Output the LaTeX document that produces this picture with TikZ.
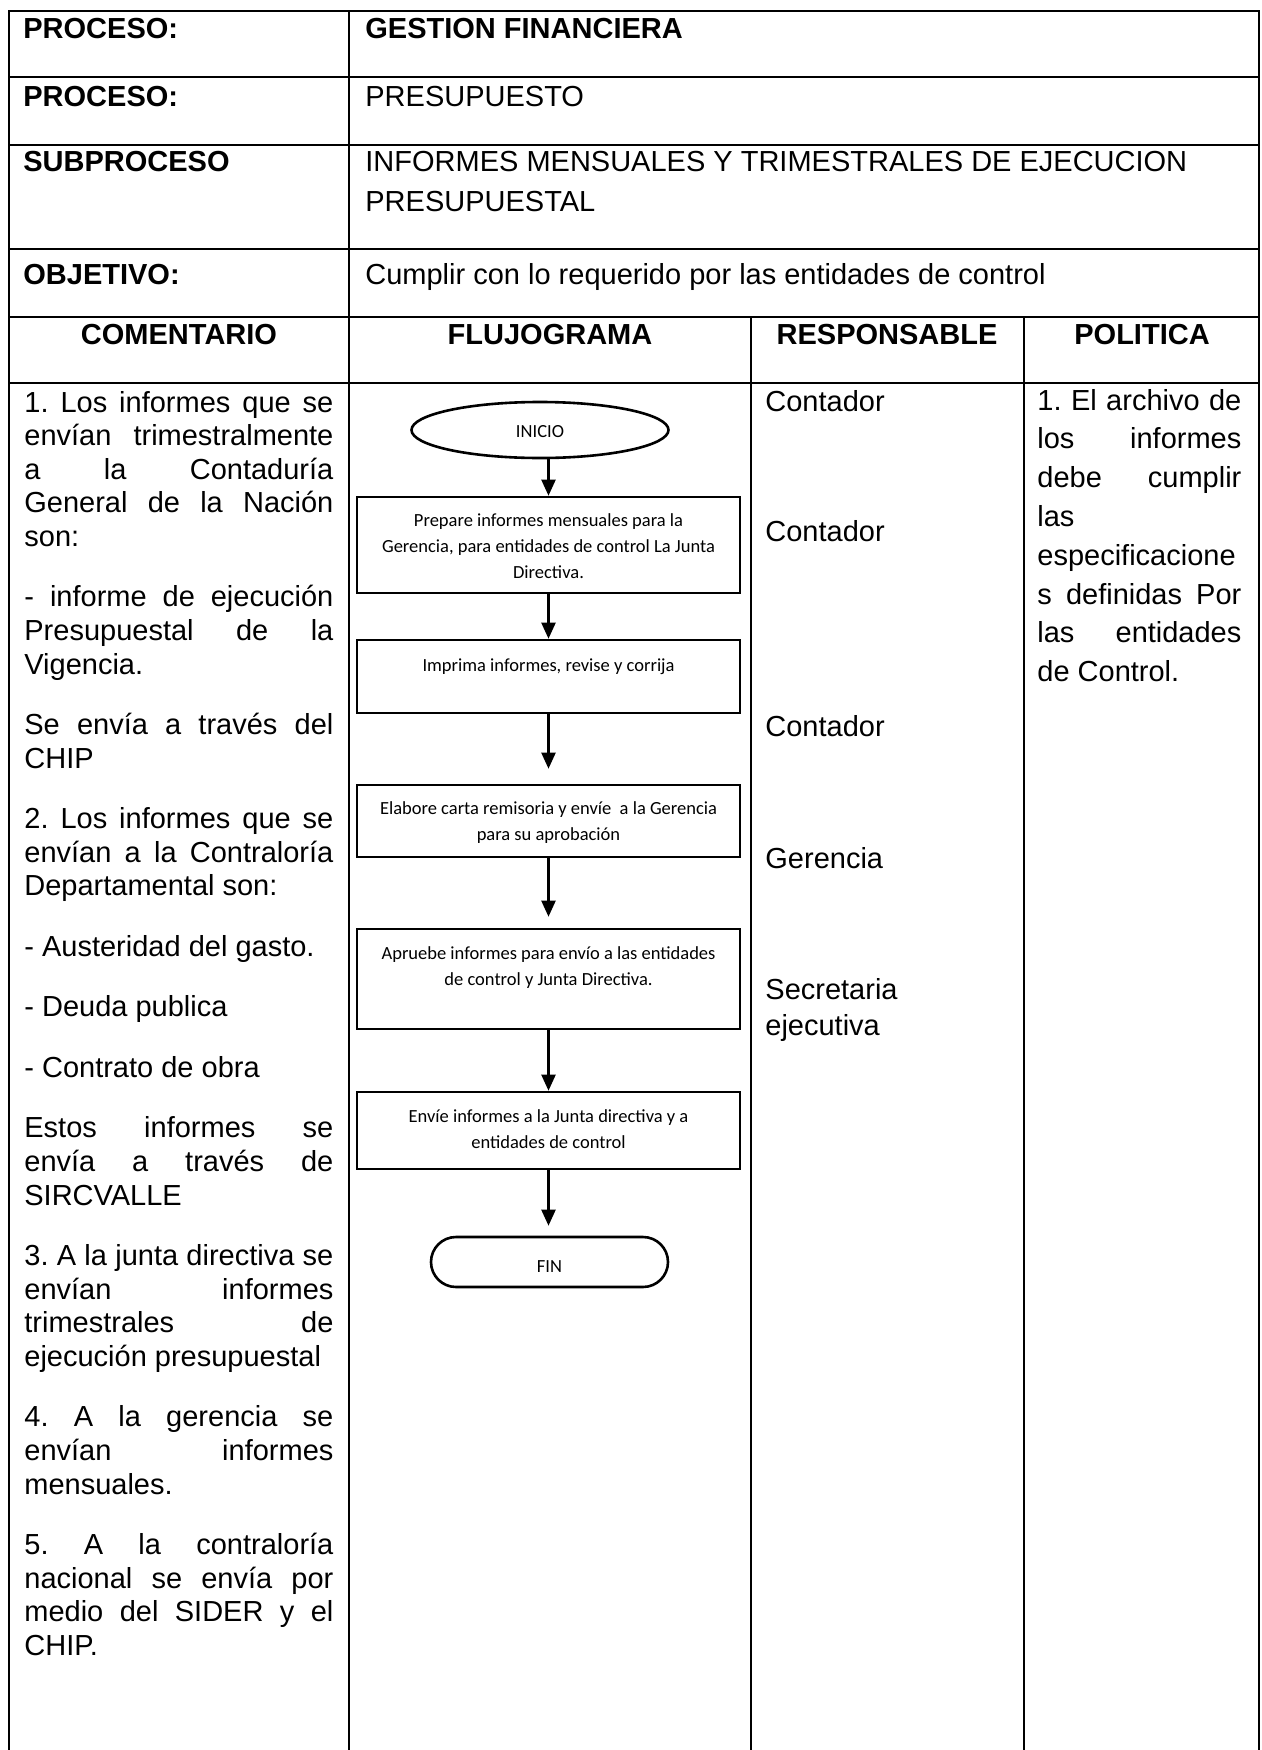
\documentclass[tikz,border=0pt]{standalone}
\usepackage{fontspec}
\setmainfont{Liberation Sans}
\newfontfamily\calibfont{Carlito}
\usetikzlibrary{shapes.geometric,arrows.meta}
\frenchspacing

% text sizes (1 unit = 0.5pt)
\newcommand\bodyfont{\fontsize{14.5pt}{16.8pt}\selectfont}
\newcommand\polfont{\fontsize{14.5pt}{19.4pt}\selectfont}
\newcommand\respfont{\fontsize{14.5pt}{18pt}\selectfont}
\newcommand\headfont{\fontsize{14.5pt}{20pt}\selectfont}
\newcommand\boxfont{\calibfont\fontsize{9.25pt}{13.15pt}\selectfont}
% justified and ragged lines
\newcommand\jus[1]{\noindent\makebox[\linewidth][s]{#1}\par}
\newcommand\lft[1]{\noindent\makebox[\linewidth][l]{#1}\par}
\newcommand\pgap{\vspace{13.45pt}}

\begin{document}
\begin{tikzpicture}[x=0.5pt,y=-0.5pt,
  rule/.style={line width=1.25pt},
  hd/.style={anchor=base west,inner sep=0,font=\headfont\bfseries},
  hv/.style={anchor=base west,inner sep=0,font=\headfont},
  colhd/.style={anchor=base,inner sep=0,font=\headfont\bfseries},
  txt/.style={anchor=base west,inner sep=0},
  stepbox/.style={draw,line width=1.3pt,minimum width=191.5pt,inner sep=0},
  btxt/.style={anchor=base,inner sep=0},
  arr/.style={line width=1.1pt,-{Triangle[width=7pt,length=8pt]}}
]
\useasboundingbox (0,0) rectangle (1262,1750);

% table frame
\draw[rule] (9,1750) -- (9,11) -- (1259,11) -- (1259,1750);
\foreach \yy in {77,145,249,317,383}
  \draw[rule] (9,\yy) -- (1259,\yy);
\draw[rule] (349,11) -- (349,1750);
\draw[rule] (751,317) -- (751,1750);
\draw[rule] (1024,317) -- (1024,1750);

% header block
\node[hd] (l1) at (23,39) {PROCESO:};
\node[hd] (v1) at (365,39) {GESTION FINANCIERA};
\node[hd] (l2) at (23,106) {PROCESO:};
\node[hv] (v2) at (365,106) {PRESUPUESTO};
\node[hd] (l3) at (23,171) {SUBPROCESO};
\node[hv] (v3) at (365,171) {INFORMES MENSUALES Y TRIMESTRALES DE EJECUCION};
\node[hv] (v3b) at (365,211) {PRESUPUESTAL};
\node[hd] (l4) at (23,284) {OBJETIVO:};
\node[hv] (v4) at (365,284) {Cumplir con lo requerido por las entidades de control};

\node[colhd] (h1) at (179,344) {COMENTARIO};
\node[colhd] (h2) at (550,344) {FLUJOGRAMA};
\node[colhd] (h3) at (887,344) {RESPONSABLE};
\node[colhd] (h4) at (1142,344) {POLITICA};

% comments column
\node[txt] (coment) at (24,412) {\parbox[t]{154.5pt}{\bodyfont
\jus{1. Los informes que se}
\jus{envían trimestralmente}
\jus{a la Contaduría}
\jus{General de la Nación}
\lft{son:}
\pgap
\jus{- informe de ejecución}
\jus{Presupuestal de la}
\lft{Vigencia.}
\pgap
\jus{Se envía a través del}
\lft{CHIP}
\pgap
\jus{2. Los informes que se}
\jus{envían a la Contraloría}
\lft{Departamental son:}
\pgap
\lft{- Austeridad del gasto.}
\pgap
\lft{- Deuda publica}
\pgap
\lft{- Contrato de obra}
\pgap
\jus{Estos informes se}
\jus{envía a través de}
\lft{SIRCVALLE}
\pgap
\jus{3. A la junta directiva se}
\jus{envían informes}
\jus{trimestrales de}
\lft{ejecución presupuestal}
\pgap
\jus{4. A la gerencia se}
\jus{envían informes}
\lft{mensuales.}
\pgap
\jus{5. A la contraloría}
\jus{nacional se envía por}
\jus{medio del SIDER y el}
\lft{CHIP.}
}};

% policy column
\node[txt] (polit) at (1037,410) {\parbox[t]{102pt}{\polfont
\jus{1. El archivo de}
\jus{los informes}
\jus{debe cumplir}
\lft{las}
\lft{especificacione}
\jus{s definidas Por}
\jus{las entidades}
\lft{de Control.}
}};

% responsible column
\node[txt,font=\bodyfont] (r1) at (765,411) {Contador};
\node[txt,font=\bodyfont] (r2) at (765,541) {Contador};
\node[txt,font=\bodyfont] (r3) at (765,736) {Contador};
\node[txt,font=\bodyfont] (r4) at (765,868) {Gerencia};
\node[txt] (r5) at (765,999) {\parbox[t]{100pt}{\respfont Secretaria\\ejecutiva}};

% flowchart shapes
\node[draw,ellipse,line width=1.3pt,minimum width=128.5pt,minimum height=28pt,inner sep=0] (inicio) at (540,430) {};
\node[btxt] (tini) at (540,437) {\boxfont INICIO};

\node[stepbox,minimum height=48pt] (b1) at (548.5,545) {};
\node[stepbox,minimum height=36.5pt] (b2) at (548.5,676.5) {};
\node[stepbox,minimum height=36pt] (b3) at (548.5,821) {};
\node[stepbox,minimum height=50pt] (b4) at (548.5,979) {};
\node[stepbox,minimum height=38.5pt] (b5) at (548.5,1130.5) {};

\node[draw,line width=1.3pt,rounded corners=12.5pt,minimum width=118.5pt,minimum height=25pt,inner sep=0] (fin) at (549.5,1262) {};
\node[btxt] (tfin) at (549.5,1272) {\boxfont FIN};

\node[btxt] (t1) at (548.5,526) {\parbox[t]{190pt}{\boxfont\centering
Prepare informes mensuales para la\\Gerencia, para entidades de control La Junta\\Directiva.}};
\node[btxt] (t2) at (548.5,671) {\parbox[t]{190pt}{\boxfont\centering
Imprima informes, revise y corrija}};
\node[btxt] (t3) at (548.5,814) {\parbox[t]{190pt}{\boxfont\centering
Elabore carta remisoria y envíe\ \ a la Gerencia\\para su aprobación}};
\node[btxt] (t4) at (548.5,959) {\parbox[t]{190pt}{\boxfont\centering
Apruebe informes para envío a las entidades\\de control y Junta Directiva.}};
\node[btxt] (t5) at (548.5,1122) {\parbox[t]{190pt}{\boxfont\centering
Envíe informes a la Junta directiva y a\\entidades de control}};

% flow connectors
\draw[arr] (b1.north |- inicio.south) -- (b1.north);
\draw[arr] (b1.south) -- (b2.north);
\draw[arr,shorten >=7.5pt] (b2.south) -- (b3.north);
\draw[arr,shorten >=5.5pt] (b3.south) -- (b4.north);
\draw[arr] (b4.south) -- (b5.north);
\draw[arr,shorten >=5pt] (b5.south) -- (b5.south |- fin.north);
\end{tikzpicture}
\end{document}
